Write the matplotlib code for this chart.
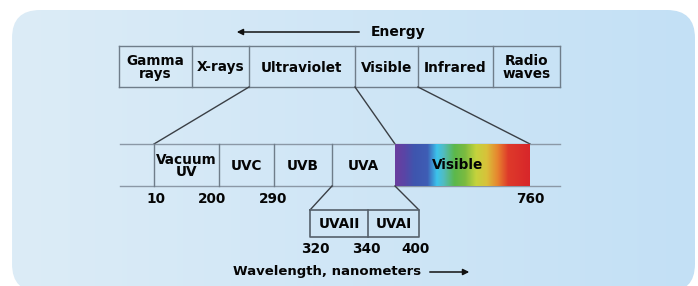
import numpy as np
import matplotlib.pyplot as plt
from matplotlib.patches import FancyBboxPatch
from matplotlib.colors import LinearSegmentedColormap

# spectrum bands (short -> long wavelength)
top_bands = ['Gamma\nrays', 'X-rays', 'Ultraviolet', 'Visible', 'Infrared', 'Radio\nwaves']
uv_bands = ['Vacuum\nUV', 'UVC', 'UVB', 'UVA']
uv_limits = ['10', '200', '290']
visible_limit = '760'
uva_bands = ['UVAII', 'UVAI']
uva_limits = ['320', '340', '400']
spectrum_stops = [0.0, 0.07, 0.14, 0.24, 0.31, 0.36, 0.44, 0.52, 0.6, 0.68, 0.76, 0.84, 1.0]
spectrum_colors = ['#6a3d9e', '#5a45a6', '#3f55ae', '#3e5db5', '#3cc3ec', '#52bcc0',
                   '#5bb84c', '#7cbb40', '#c4d33d', '#d9c13a', '#e7862f', '#de3a2a', '#d8262a']

# layout (pixels)
top_edges = [119, 192, 249, 355, 418, 493, 560]
top_y = (46, 87)
mid_edges = [154, 219, 274, 332, 395]
vis_x = (395, 530)
mid_y = (144, 186)
sub_edges = [310, 368, 419]
sub_y = (210, 237)

fig = plt.figure(figsize=(6.98, 2.86), dpi=100)
ax = fig.add_axes([0, 0, 1, 1])
ax.set_xlim(0, 698)
ax.set_ylim(286, 0)
ax.axis('off')

# rounded light blue panel
panel = FancyBboxPatch((12, 10), 683, 282, boxstyle='round,pad=0,rounding_size=28',
                       facecolor='none', edgecolor='none')
ax.add_patch(panel)
bg = LinearSegmentedColormap.from_list('bg', ['#dcecf7', '#c3e0f5'])
img = ax.imshow(np.linspace(0, 1, 256).reshape(1, -1), cmap=bg, aspect='auto',
                extent=(12, 695, 292, 10), zorder=0)
img.set_clip_path(panel)

font = dict(fontweight='heavy', fontfamily='DejaVu Sans', color='#050505', ha='center', va='center')
box_col = '#6f7d8a'
link_col = '#3a3f45'

# energy arrow
ax.annotate('', xy=(234, 32), xytext=(362, 32),
            arrowprops=dict(arrowstyle='-|>', color='#111111', lw=1.1, mutation_scale=9))
ax.text(371, 32, 'Energy', fontsize=10, **{**font, 'ha': 'left'})

# top row of boxes
ax.plot([top_edges[0], top_edges[-1]], [top_y[0]] * 2, color=box_col, lw=1)
ax.plot([top_edges[0], top_edges[-1]], [top_y[1]] * 2, color=box_col, lw=1)
for x in top_edges:
    ax.plot([x, x], top_y, color=box_col, lw=1)
for i, lab in enumerate(top_bands):
    cx = (top_edges[i] + top_edges[i + 1]) / 2
    ax.text(cx, sum(top_y) / 2 + 1, lab, fontsize=9.8, linespacing=0.85, **font)

# links from top row to the UV/visible band
ax.plot([top_edges[2], mid_edges[0]], [top_y[1], mid_y[0]], color=link_col, lw=1)
ax.plot([top_edges[3], vis_x[0]], [top_y[1], mid_y[0]], color=link_col, lw=1)
ax.plot([top_edges[4], vis_x[1]], [top_y[1], mid_y[0]], color=link_col, lw=1)

# middle band
for y in mid_y:
    ax.plot([120, 560], [y, y], color='#8b98a6', lw=1)
for x in mid_edges[:-1]:
    ax.plot([x, x], mid_y, color=box_col, lw=1)
for i, lab in enumerate(uv_bands):
    cx = (mid_edges[i] + mid_edges[i + 1]) / 2
    ax.text(cx, sum(mid_y) / 2 + 1, lab, fontsize=9.8, linespacing=0.85, **font)

spec = LinearSegmentedColormap.from_list('spec', list(zip(spectrum_stops, spectrum_colors)))
ax.imshow(np.linspace(0, 1, 256).reshape(1, -1), cmap=spec, aspect='auto',
          extent=(vis_x[0], vis_x[1], mid_y[1], mid_y[0]), zorder=2)
ax.text(sum(vis_x) / 2 - 5, sum(mid_y) / 2, 'Visible', fontsize=9.8, zorder=3, **font)

for val, x in zip(uv_limits, [156, 212, 273]):
    ax.text(x, 199, val, fontsize=9.8, **font)
ax.text(vis_x[1], 199, visible_limit, fontsize=9.8, **font)

# UVA sub-bands
ax.plot([mid_edges[3], sub_edges[0]], [mid_y[1], sub_y[0]], color=link_col, lw=1)
ax.plot([vis_x[0], sub_edges[-1]], [mid_y[1], sub_y[0]], color=link_col, lw=1)
ax.plot([sub_edges[0], sub_edges[-1], sub_edges[-1], sub_edges[0], sub_edges[0]],
        [sub_y[0], sub_y[0], sub_y[1], sub_y[1], sub_y[0]], color='#55606b', lw=1.2)
ax.plot([sub_edges[1]] * 2, sub_y, color='#55606b', lw=1.2)
for i, lab in enumerate(uva_bands):
    cx = (sub_edges[i] + sub_edges[i + 1]) / 2
    ax.text(cx, sum(sub_y) / 2 + 1, lab, fontsize=9.8, **font)
for val, x in zip(uva_limits, [315, 366, 416]):
    ax.text(x, 249, val, fontsize=9.8, **font)

# axis caption
ax.text(233, 272, 'Wavelength, nanometers', fontsize=9.5, **{**font, 'ha': 'left'})
ax.annotate('', xy=(472, 272), xytext=(427, 272),
            arrowprops=dict(arrowstyle='-|>', color='#111111', lw=1.1, mutation_scale=9))

fig.savefig('out.png', dpi=100)
